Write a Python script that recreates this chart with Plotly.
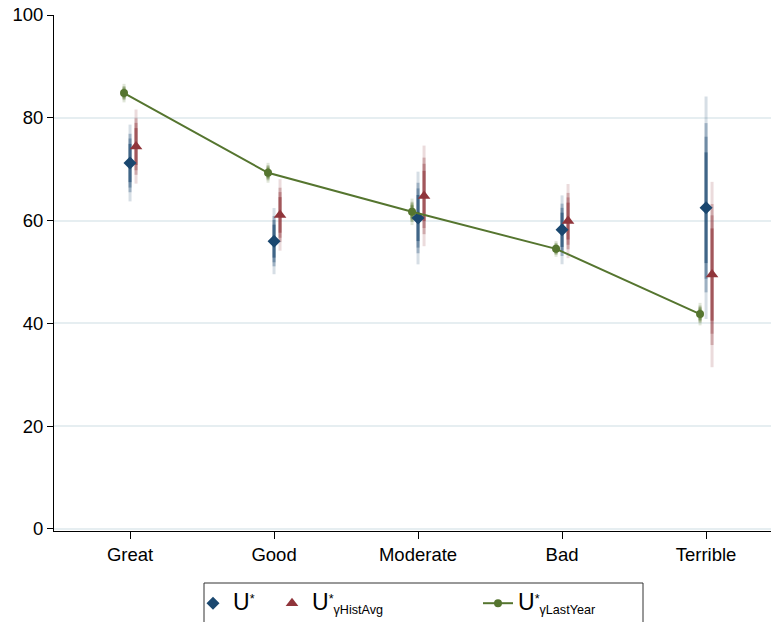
import plotly.graph_objects as go

# Outcome categories along the horizontal axis
categories = ["Great", "Good", "Moderate", "Bad", "Terrible"]

# Point estimates for each measure
u_star = [71.2, 56.0, 60.5, 58.2, 62.5]
u_hist_avg = [74.4, 61.1, 64.8, 59.9, 49.5]
u_last_year = [84.8, 69.3, 61.7, 54.5, 41.8]

# Standard errors used for the layered confidence bands
u_star_se = [2.9, 2.5, 3.5, 2.6, 8.4]
u_hist_avg_se = [2.8, 2.7, 3.8, 2.8, 7.0]
u_last_year_se = [0.7, 0.75, 1.0, 0.6, 0.85]

# Critical values for 99%, 95%, 90% and 80% intervals (outer to inner)
z_levels = [2.576, 1.96, 1.645, 1.282]
band_alpha = [0.18, 0.30, 0.35, 0.55]

NAVY = "#1a476f"
MAROON = "#90353b"
GREEN = "#55752f"


def rgba(hex_color, a):
    h = hex_color.lstrip("#")
    r, g, b = int(h[0:2], 16), int(h[2:4], 16), int(h[4:6], 16)
    return f"rgba({r},{g},{b},{a})"


def key_label(sub):
    text = "<span style='font-size:23px'>U</span><sup>*</sup>"
    if sub:
        text += f"<sub>{sub}</sub>"
    return text


base = list(range(1, len(categories) + 1))
shift = 0.0417
x_last = [b - shift for b in base]
x_star = [b for b in base]
x_hist = [b + shift for b in base]

fig = go.Figure()

# Layered interval spikes
for xs, ys, ses, col in [
    (x_star, u_star, u_star_se, NAVY),
    (x_hist, u_hist_avg, u_hist_avg_se, MAROON),
    (x_last, u_last_year, u_last_year_se, GREEN),
]:
    for z, a in zip(z_levels, band_alpha):
        fig.add_trace(go.Scatter(
            x=xs, y=ys, mode="markers",
            marker=dict(size=1, color="rgba(0,0,0,0)"),
            error_y=dict(type="data", symmetric=True,
                         array=[z * s for s in ses],
                         color=rgba(col, a), thickness=3, width=0),
            showlegend=False, hoverinfo="skip",
        ))

fig.add_trace(go.Scatter(
    x=x_star, y=u_star, mode="markers",
    marker=dict(symbol="diamond", size=10, color=NAVY),
    name=key_label(""), legend="legend",
))
fig.add_trace(go.Scatter(
    x=x_hist, y=u_hist_avg, mode="markers",
    marker=dict(symbol="triangle-up", size=11, color=MAROON),
    name=key_label("γHistAvg"), legend="legend2",
))
fig.add_trace(go.Scatter(
    x=x_last, y=u_last_year, mode="lines+markers",
    line=dict(color=GREEN, width=2),
    marker=dict(symbol="circle", size=8, color=GREEN),
    name=key_label("γLastYear"), legend="legend3",
))

legend_common = dict(
    orientation="h", xref="container", yref="container",
    xanchor="left", yanchor="top", y=1 - 585 / 622,
    bgcolor="rgba(0,0,0,0)", borderwidth=0,
    font=dict(size=18), itemwidth=30,
)

fig.update_layout(
    width=771, height=622,
    margin=dict(l=54, r=0, t=15, b=91),
    paper_bgcolor="white", plot_bgcolor="white",
    font=dict(family="Liberation Sans, Arial, sans-serif", color="black", size=18),
    showlegend=True,
    legend=dict(legend_common, x=193 / 771),
    legend2=dict(legend_common, x=272 / 771),
    legend3=dict(legend_common, x=478 / 771),
    # frame around the key
    shapes=[dict(type="rect", xref="paper", yref="paper",
                 x0=(204 - 54) / 717, x1=(643 - 54) / 717,
                 y0=-0.1008, y1=-0.25,
                 line=dict(color="#333333", width=1), fillcolor="rgba(0,0,0,0)",
                 layer="below")],
)

fig.update_xaxes(
    range=[0.472, 5.451], tickvals=base, ticktext=categories,
    showgrid=False, zeroline=False, showline=True, linecolor="black", linewidth=1,
    ticks="outside", ticklen=7, tickcolor="black", tickfont=dict(size=18.5),
)
fig.update_yaxes(
    range=[-0.4, 100], tickvals=[0, 20, 40, 60, 80, 100],
    showgrid=True, gridcolor="#e6eef1", gridwidth=1.5, zeroline=False,
    showline=True, linecolor="black", linewidth=1,
    ticks="outside", ticklen=6, tickcolor="black", tickfont=dict(size=18.5),
)

fig.write_html("out.html")
